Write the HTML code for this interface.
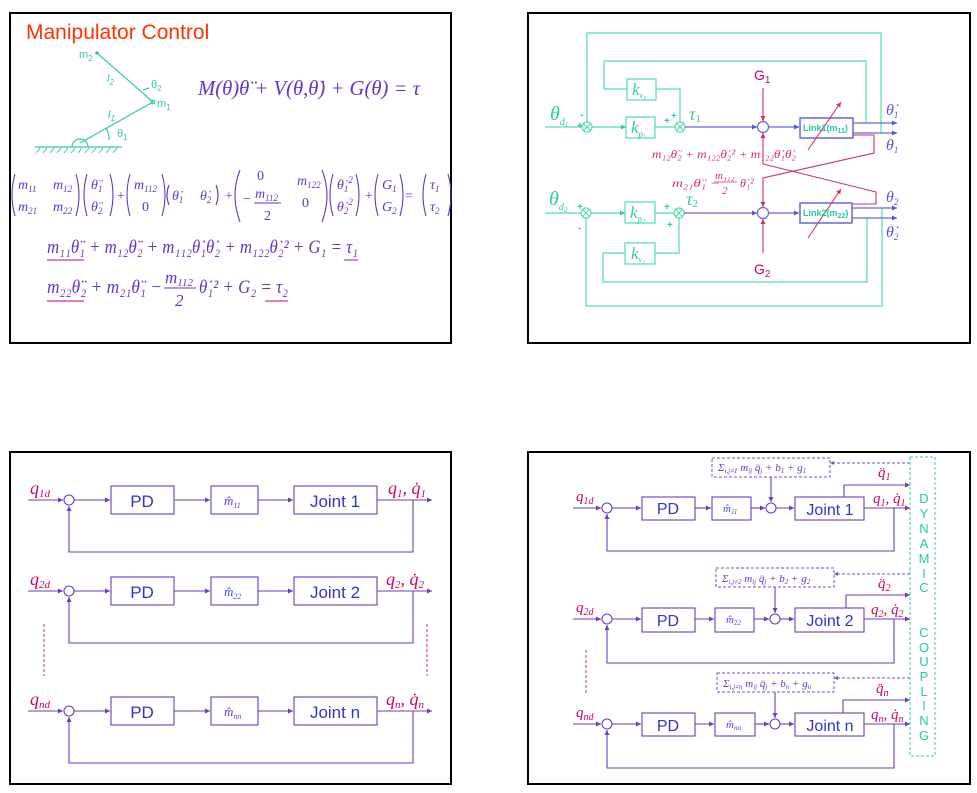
<!DOCTYPE html>
<html><head><meta charset="utf-8"><style>
html,body{margin:0;padding:0;background:#fff;}
svg{display:block}
.s{font-family:"Liberation Serif","DejaVu Serif",serif;font-style:italic}
.a{font-family:"Liberation Sans","DejaVu Sans",sans-serif}
</style></head><body>
<svg width="977" height="793" viewBox="0 0 977 793" xmlns="http://www.w3.org/2000/svg">
<defs>
<marker id="ap" markerWidth="6" markerHeight="6" refX="5" refY="3" orient="auto" markerUnits="userSpaceOnUse"><path d="M0,0.5 L5,3 L0,5.5z" fill="#6a3cc0"/></marker>
<marker id="ab" markerWidth="6" markerHeight="6" refX="5" refY="3" orient="auto" markerUnits="userSpaceOnUse"><path d="M0,0.5 L5,3 L0,5.5z" fill="#5555dd"/></marker>
<marker id="ag" markerWidth="6" markerHeight="6" refX="5" refY="3" orient="auto" markerUnits="userSpaceOnUse"><path d="M0,0.5 L5,3 L0,5.5z" fill="#33cc99"/></marker>
<marker id="ak" markerWidth="6" markerHeight="6" refX="5" refY="3" orient="auto" markerUnits="userSpaceOnUse"><path d="M0,0.5 L5,3 L0,5.5z" fill="#cc3366"/></marker>
</defs>
<!-- panel borders -->
<g fill="none" stroke="#000" stroke-width="2">
<rect x="10" y="13" width="441" height="330"/>
<rect x="528" y="13" width="442" height="330"/>
<rect x="10" y="452" width="441" height="332"/>
<rect x="528" y="452" width="442" height="332"/>
</g>

<!-- ===== Panel 1 ===== -->
<text x="26" y="39" class="a" font-size="21" fill="#ff3300">Manipulator Control</text>
<g stroke="#33cc99" stroke-width="1.2" fill="none">
<line x1="80" y1="143" x2="153" y2="102"/>
<line x1="153" y1="102" x2="97" y2="53"/>
<line x1="35" y1="147" x2="122" y2="147"/>
<path d="M72,147 A8,8 0 0 1 88,147"/>
<path d="M106,128 A20,20 0 0 1 109,140"/>
<path d="M149,88 L143,90"/>
<circle cx="153" cy="102" r="1.8"/>
</g>
<g stroke="#33cc99" stroke-width="1">
<line x1="36" y1="153" x2="40" y2="148"/><line x1="43" y1="153" x2="47" y2="148"/><line x1="50" y1="153" x2="54" y2="148"/><line x1="57" y1="153" x2="61" y2="148"/><line x1="64" y1="153" x2="68" y2="148"/><line x1="71" y1="153" x2="75" y2="148"/><line x1="78" y1="153" x2="82" y2="148"/><line x1="85" y1="153" x2="89" y2="148"/><line x1="92" y1="153" x2="96" y2="148"/><line x1="99" y1="153" x2="103" y2="148"/><line x1="106" y1="153" x2="110" y2="148"/><line x1="113" y1="153" x2="117" y2="148"/>
</g>
<circle cx="97" cy="53" r="1.8" fill="#33cc99"/>
<g class="a" font-size="11" fill="#33cc99">
<text x="79" y="58">m<tspan font-size="8" dy="3">2</tspan></text>
<text x="107" y="82" font-style="italic">l<tspan font-size="8" dy="3">2</tspan></text>
<text x="151" y="88">θ<tspan font-size="8" dy="3">2</tspan></text>
<text x="157" y="107">m<tspan font-size="8" dy="3">1</tspan></text>
<text x="108" y="118" font-style="italic">l<tspan font-size="8" dy="3">1</tspan></text>
<text x="117" y="137">θ<tspan font-size="8" dy="3">1</tspan></text>
</g>
<text x="198" y="95" class="s" font-size="21" fill="#6633cc" textLength="222" lengthAdjust="spacingAndGlyphs">M(θ)θ̈ + V(θ,θ̇) + G(θ) = τ</text>

<!-- matrix equation -->
<g class="s" font-size="14" fill="#6633cc">
<text x="18" y="189">m<tspan font-size="9" dy="3">11</tspan></text>
<text x="53" y="189">m<tspan font-size="9" dy="3">12</tspan></text>
<text x="18" y="211">m<tspan font-size="9" dy="3">21</tspan></text>
<text x="53" y="211">m<tspan font-size="9" dy="3">22</tspan></text>
<text x="91" y="189">θ̈<tspan font-size="9" dy="3">1</tspan></text>
<text x="91" y="211">θ̈<tspan font-size="9" dy="3">2</tspan></text>
<text x="117" y="200" font-style="normal">+</text>
<text x="134" y="189">m<tspan font-size="9" dy="3">112</tspan></text>
<text x="142" y="211" font-style="normal">0</text>
<text x="172" y="200">θ̇<tspan font-size="9" dy="3">1</tspan></text>
<text x="200" y="200">θ̇<tspan font-size="9" dy="3">2</tspan></text>
<text x="225" y="200" font-style="normal">+</text>
<text x="257" y="180" font-style="normal">0</text>
<text x="297" y="185">m<tspan font-size="9" dy="3">122</tspan></text>
<text x="243" y="203" font-style="normal">−</text>
<text x="255" y="198">m<tspan font-size="9" dy="3">112</tspan></text>
<line x1="254" y1="203" x2="281" y2="203" stroke="#6633cc" stroke-width="1"/>
<text x="264" y="220" font-style="normal">2</text>
<text x="302" y="207" font-style="normal">0</text>
<text x="337" y="189">θ̇<tspan font-size="9" dy="3">1</tspan><tspan font-size="9" dy="-9">2</tspan></text>
<text x="337" y="211">θ̇<tspan font-size="9" dy="3">2</tspan><tspan font-size="9" dy="-9">2</tspan></text>
<text x="365" y="200" font-style="normal">+</text>
<text x="382" y="189">G<tspan font-size="9" dy="3">1</tspan></text>
<text x="382" y="211">G<tspan font-size="9" dy="3">2</tspan></text>
<text x="405" y="200" font-style="normal">=</text>
<text x="430" y="189">τ<tspan font-size="9" dy="3">1</tspan></text>
<text x="430" y="211">τ<tspan font-size="9" dy="3">2</tspan></text>
</g>
<g fill="none" stroke="#6633cc" stroke-width="1.1">
<path d="M15,174 Q9,195 15,216"/><path d="M76,174 Q82,195 76,216"/>
<path d="M87,174 Q81,195 87,216"/><path d="M110,174 Q116,195 110,216"/>
<path d="M130,174 Q124,195 130,216"/><path d="M162,174 Q168,195 162,216"/>
<path d="M169,185 Q165,195 169,205"/><path d="M216,185 Q220,195 216,205"/>
<path d="M240,170 Q230,195 240,222"/><path d="M322,170 Q332,195 322,222"/>
<path d="M333,174 Q327,195 333,216"/><path d="M356,174 Q362,195 356,216"/>
<path d="M378,174 Q372,195 378,216"/><path d="M400,174 Q406,195 400,216"/>
<path d="M426,174 Q420,195 426,216"/><path d="M448,174 Q454,195 448,216"/>
</g>
<!-- line 1 -->
<text x="47" y="253" class="s" font-size="19" fill="#6633cc" textLength="311" lengthAdjust="spacingAndGlyphs">m₁₁θ̈₁ + m₁₂θ̈₂ + m₁₁₂θ̇₁θ̇₂ + m₁₂₂θ̇₂² + G₁ = τ₁</text>
<line x1="47" y1="260" x2="84" y2="260" stroke="#cc3399" stroke-width="1.2"/>
<line x1="344" y1="260" x2="358" y2="260" stroke="#cc3399" stroke-width="1.2"/>
<!-- line 2 -->
<text x="47" y="293" class="s" font-size="19" fill="#6633cc" textLength="115" lengthAdjust="spacingAndGlyphs">m₂₂θ̈₂ + m₂₁θ̈₁ −</text>
<text x="165" y="283" class="s" font-size="17" fill="#6633cc">m<tspan font-size="11" dy="3">112</tspan></text>
<line x1="164" y1="288" x2="196" y2="288" stroke="#6633cc" stroke-width="1"/>
<text x="175" y="306" class="s" font-size="17" fill="#6633cc" font-style="normal">2</text>
<text x="199" y="293" class="s" font-size="19" fill="#6633cc" textLength="89" lengthAdjust="spacingAndGlyphs">θ̇₁² + G₂ = τ₂</text>
<line x1="47" y1="301" x2="84" y2="301" stroke="#cc3399" stroke-width="1.2"/>
<line x1="265" y1="301" x2="288" y2="301" stroke="#cc3399" stroke-width="1.2"/>

<!-- ===== Panel 2 ===== -->
<g fill="none" stroke="#55ddaa" stroke-width="1.2">
<polyline points="881,133 881,33 587,33 587,122"/>
<polyline points="866,123 866,61 604,61 604,89 627,89"/>
<polyline points="656,89 680,89 680,122"/>
<line x1="545" y1="127" x2="582" y2="127"/>
<line x1="592" y1="127" x2="626" y2="127" marker-end="url(#ag)"/>
<line x1="655" y1="127" x2="675" y2="127"/>
<rect x="627" y="79" width="29" height="21"/>
<rect x="626" y="117" width="29" height="21"/>
<circle cx="587" cy="127" r="5"/><circle cx="680" cy="127" r="5"/>
<path d="M583.5,123.5 l7,7 M590.5,123.5 l-7,7 M676.5,123.5 l7,7 M683.5,123.5 l-7,7"/>
<polyline points="882,208 882,306 586,306 586,218"/>
<polyline points="867,218 867,282 603,282 603,253 625,253"/>
<polyline points="655,253 679,253 679,218"/>
<line x1="545" y1="213" x2="581" y2="213"/>
<line x1="591" y1="213" x2="625" y2="213" marker-end="url(#ag)"/>
<line x1="655" y1="213" x2="674" y2="213"/>
<rect x="625" y="202" width="30" height="21"/>
<rect x="625" y="243" width="30" height="21"/>
<circle cx="586" cy="213" r="5"/><circle cx="679" cy="213" r="5"/>
<path d="M582.5,209.5 l7,7 M589.5,209.5 l-7,7 M675.5,209.5 l7,7 M682.5,209.5 l-7,7"/>
</g>
<g fill="none" stroke="#6666dd" stroke-width="1.2">
<line x1="685" y1="127" x2="757" y2="127" marker-end="url(#ab)"/>
<circle cx="763" cy="127" r="5.5"/>
<line x1="769" y1="127" x2="799" y2="127" marker-end="url(#ab)"/>
<rect x="800" y="118" width="53" height="20" stroke-width="1.5"/>
<line x1="853" y1="123" x2="897" y2="123" marker-end="url(#ab)"/>
<line x1="853" y1="133" x2="897" y2="133" marker-end="url(#ab)"/>
<line x1="684" y1="213" x2="757" y2="213" marker-end="url(#ab)"/>
<circle cx="763" cy="213" r="5.5"/>
<line x1="769" y1="213" x2="799" y2="213" marker-end="url(#ab)"/>
<rect x="800" y="203" width="52" height="20" stroke-width="1.5"/>
<line x1="852" y1="208" x2="897" y2="208" marker-end="url(#ab)"/>
<line x1="852" y1="218" x2="897" y2="218" marker-end="url(#ab)"/>
</g>
<g fill="none" stroke="#cc3366" stroke-width="1.1">
<line x1="763" y1="88" x2="763" y2="121" marker-end="url(#ak)"/>
<line x1="763" y1="253" x2="763" y2="219" marker-end="url(#ak)"/>
<polyline points="853,135 874,135 874,153 763,178 763,207" marker-end="url(#ak)"/>
<polyline points="852,204 876,204 876,192 763,164 763,133" marker-end="url(#ak)"/>
<line x1="808" y1="150" x2="841" y2="102" marker-end="url(#ak)"/>
<line x1="808" y1="238" x2="841" y2="189" marker-end="url(#ak)"/>
</g>
<g class="a" font-size="14" fill="#cc0066">
<text x="754" y="80">G<tspan font-size="10" dy="3">1</tspan></text>
<text x="754" y="274">G<tspan font-size="10" dy="3">2</tspan></text>
</g>
<g class="a" font-size="9" fill="#22cc99" font-weight="bold">
<text x="803" y="131">Link1(m<tspan font-size="7" dy="2">11</tspan><tspan dy="-2">)</tspan></text>
<text x="803" y="216">Link2(m<tspan font-size="7" dy="2">22</tspan><tspan dy="-2">)</tspan></text>
</g>
<g class="s" fill="#33cc99">
<text x="632" y="95" font-size="17">k<tspan font-size="8" dy="3">v</tspan><tspan font-size="6" dy="2">1</tspan></text>
<text x="631" y="133" font-size="17">k<tspan font-size="9" dy="4">p</tspan><tspan font-size="6" dy="1">1</tspan></text>
<text x="630" y="218" font-size="17">k<tspan font-size="9" dy="4">p</tspan><tspan font-size="6" dy="1">2</tspan></text>
<text x="631" y="259" font-size="17">k<tspan font-size="8" dy="3">v</tspan><tspan font-size="6" dy="2">2</tspan></text>
<text x="550" y="120" font-size="20">θ<tspan font-size="10" dy="5">d</tspan><tspan font-size="7" dy="2">1</tspan></text>
<text x="549" y="205" font-size="20">θ<tspan font-size="10" dy="5">d</tspan><tspan font-size="7" dy="2">2</tspan></text>
<text x="689" y="120" font-size="18">τ<tspan font-size="11" dy="2" font-style="normal">1</tspan></text>
<text x="686" y="205" font-size="18">τ<tspan font-size="11" dy="2" font-style="normal">2</tspan></text>
</g>
<g class="a" font-size="10" fill="#33cc99" font-weight="bold">
<text x="577" y="129">+</text><text x="580" y="118">-</text>
<text x="664" y="124">+</text><text x="671" y="119">+</text>
<text x="577" y="210">+</text><text x="578" y="231">-</text>
<text x="664" y="210">+</text><text x="667" y="228">+</text>
</g>
<g class="s" fill="#5555dd" font-size="16">
<text x="886" y="115">θ̇<tspan font-size="9" dy="3">1</tspan></text>
<text x="886" y="150">θ<tspan font-size="9" dy="3">1</tspan></text>
<text x="886" y="202">θ<tspan font-size="9" dy="3">2</tspan></text>
<text x="886" y="237">θ̇<tspan font-size="9" dy="3">2</tspan></text>
</g>
<text x="652" y="158" class="s" font-size="12" fill="#cc3366" textLength="144" lengthAdjust="spacingAndGlyphs">m₁₂θ̈₂ + m₁₂₂θ̇₂² + m₁₂₂θ̇₁θ̇₂</text>
<text x="672" y="187" class="s" font-size="12" fill="#cc3366" textLength="48" lengthAdjust="spacingAndGlyphs">m₂₁θ̈₁ −</text>
<text x="715" y="179" class="s" font-size="11" fill="#cc3366">m₁₁₂</text>
<line x1="714" y1="182" x2="737" y2="182" stroke="#cc3366" stroke-width="0.8"/>
<text x="722" y="194" font-size="11" class="s" font-style="normal" fill="#cc3366">2</text>
<text x="740" y="187" class="s" font-size="12" fill="#cc3366">θ̇₁²</text>

<!-- ===== Panel 3 ===== -->
<g id="rowL">
</g>
<g fill="none" stroke="#6a3cc0" stroke-width="1.1">
<!-- row1 -->
<line x1="28" y1="500" x2="63" y2="500" marker-end="url(#ap)"/>
<circle cx="69" cy="500" r="5"/>
<line x1="74" y1="500" x2="110" y2="500" marker-end="url(#ap)"/>
<rect x="111" y="486" width="63" height="28"/>
<line x1="174" y1="500" x2="210" y2="500" marker-end="url(#ap)"/>
<rect x="211" y="486" width="47" height="28"/>
<line x1="258" y1="500" x2="293" y2="500" marker-end="url(#ap)"/>
<rect x="294" y="486" width="83" height="28"/>
<line x1="377" y1="500" x2="432" y2="500" marker-end="url(#ap)"/>
<polyline points="413,500 413,552 69,552 69,506" marker-end="url(#ap)"/>
<!-- row2 -->
<line x1="28" y1="591" x2="63" y2="591" marker-end="url(#ap)"/>
<circle cx="69" cy="591" r="5"/>
<line x1="74" y1="591" x2="110" y2="591" marker-end="url(#ap)"/>
<rect x="111" y="577" width="63" height="28"/>
<line x1="174" y1="591" x2="210" y2="591" marker-end="url(#ap)"/>
<rect x="211" y="577" width="47" height="28"/>
<line x1="258" y1="591" x2="293" y2="591" marker-end="url(#ap)"/>
<rect x="294" y="577" width="83" height="28"/>
<line x1="377" y1="591" x2="432" y2="591" marker-end="url(#ap)"/>
<polyline points="413,591 413,643 69,643 69,597" marker-end="url(#ap)"/>
<!-- row3 -->
<line x1="28" y1="711" x2="63" y2="711" marker-end="url(#ap)"/>
<circle cx="69" cy="711" r="5"/>
<line x1="74" y1="711" x2="110" y2="711" marker-end="url(#ap)"/>
<rect x="111" y="697" width="63" height="28"/>
<line x1="174" y1="711" x2="210" y2="711" marker-end="url(#ap)"/>
<rect x="211" y="697" width="47" height="28"/>
<line x1="258" y1="711" x2="293" y2="711" marker-end="url(#ap)"/>
<rect x="294" y="697" width="83" height="28"/>
<line x1="377" y1="711" x2="432" y2="711" marker-end="url(#ap)"/>
<polyline points="413,711 413,763 69,763 69,717" marker-end="url(#ap)"/>
</g>
<g stroke="#cc3366" stroke-width="1" stroke-dasharray="3,2">
<line x1="44" y1="624" x2="44" y2="676"/><line x1="427" y1="624" x2="427" y2="676"/>
</g>
<g class="a" font-size="17" fill="#3333cc" text-anchor="middle">
<text x="142" y="507">PD</text><text x="335" y="507">Joint 1</text>
<text x="142" y="598">PD</text><text x="335" y="598">Joint 2</text>
<text x="142" y="718">PD</text><text x="335" y="718">Joint n</text>
</g>
<g class="s" font-size="13" fill="#5544dd">
<text x="224" y="505">m̂<tspan font-size="8" dy="3">11</tspan></text>
<text x="224" y="596">m̂<tspan font-size="8" dy="3">22</tspan></text>
<text x="224" y="716">m̂<tspan font-size="8" dy="3">nn</tspan></text>
</g>
<g class="s" font-size="18" fill="#cc0066">
<text x="30" y="494">q<tspan font-size="11" dy="3">1d</tspan></text>
<text x="30" y="585">q<tspan font-size="11" dy="3">2d</tspan></text>
<text x="30" y="705">q<tspan font-size="11" dy="3">nd</tspan></text>
<text x="388" y="494">q<tspan font-size="11" dy="3">1</tspan><tspan dy="-3">, q̇</tspan><tspan font-size="11" dy="3">1</tspan></text>
<text x="386" y="585">q<tspan font-size="11" dy="3">2</tspan><tspan dy="-3">, q̇</tspan><tspan font-size="11" dy="3">2</tspan></text>
<text x="386" y="705">q<tspan font-size="11" dy="3">n</tspan><tspan dy="-3">, q̇</tspan><tspan font-size="11" dy="3">n</tspan></text>
</g>

<!-- ===== Panel 4 ===== -->
<g fill="none" stroke="#6a3cc0" stroke-width="1.1">
<!-- row1 y508 -->
<line x1="573" y1="508" x2="601" y2="508" marker-end="url(#ap)"/>
<circle cx="607" cy="508" r="5"/>
<line x1="612" y1="508" x2="641" y2="508" marker-end="url(#ap)"/>
<rect x="642" y="497" width="53" height="23"/>
<line x1="695" y1="508" x2="711" y2="508" marker-end="url(#ap)"/>
<rect x="712" y="497" width="39" height="23"/>
<line x1="751" y1="508" x2="765" y2="508" marker-end="url(#ap)"/>
<circle cx="771" cy="508" r="5"/>
<line x1="776" y1="508" x2="794" y2="508" marker-end="url(#ap)"/>
<rect x="795" y="497" width="69" height="23"/>
<line x1="864" y1="508" x2="910" y2="508" marker-end="url(#ap)"/>
<polyline points="844,497 844,485 910,485" marker-end="url(#ap)"/>
<polyline points="894,508 894,551 607,551 607,514" marker-end="url(#ap)"/>
<line x1="771" y1="477" x2="771" y2="502" marker-end="url(#ap)"/>
<!-- row2 y619 -->
<line x1="573" y1="619" x2="601" y2="619" marker-end="url(#ap)"/>
<circle cx="607" cy="619" r="5"/>
<line x1="612" y1="619" x2="641" y2="619" marker-end="url(#ap)"/>
<rect x="642" y="608" width="53" height="24"/>
<line x1="695" y1="619" x2="714" y2="619" marker-end="url(#ap)"/>
<rect x="715" y="608" width="39" height="24"/>
<line x1="754" y1="619" x2="769" y2="619" marker-end="url(#ap)"/>
<circle cx="775" cy="619" r="5"/>
<line x1="780" y1="619" x2="794" y2="619" marker-end="url(#ap)"/>
<rect x="795" y="608" width="69" height="24"/>
<line x1="864" y1="619" x2="910" y2="619" marker-end="url(#ap)"/>
<polyline points="846,608 846,595 910,595" marker-end="url(#ap)"/>
<polyline points="894,619 894,663 607,663 607,625" marker-end="url(#ap)"/>
<line x1="775" y1="587" x2="775" y2="613" marker-end="url(#ap)"/>
<!-- row3 y724 -->
<line x1="573" y1="724" x2="601" y2="724" marker-end="url(#ap)"/>
<circle cx="607" cy="724" r="5"/>
<line x1="612" y1="724" x2="641" y2="724" marker-end="url(#ap)"/>
<rect x="642" y="713" width="53" height="23"/>
<line x1="695" y1="724" x2="714" y2="724" marker-end="url(#ap)"/>
<rect x="715" y="713" width="40" height="23"/>
<line x1="755" y1="724" x2="769" y2="724" marker-end="url(#ap)"/>
<circle cx="775" cy="724" r="5"/>
<line x1="780" y1="724" x2="794" y2="724" marker-end="url(#ap)"/>
<rect x="795" y="713" width="69" height="23"/>
<line x1="864" y1="724" x2="910" y2="724" marker-end="url(#ap)"/>
<polyline points="843,713 843,700 910,700" marker-end="url(#ap)"/>
<polyline points="894,724 894,768 607,768 607,730" marker-end="url(#ap)"/>
<line x1="775" y1="692" x2="775" y2="718" marker-end="url(#ap)"/>
</g>
<g fill="none" stroke="#7a4cc8" stroke-width="1" stroke-dasharray="3,2">
<rect x="712" y="458" width="118" height="19"/>
<rect x="716" y="568" width="118" height="19"/>
<rect x="717" y="673" width="117" height="19"/>
<line x1="910" y1="463" x2="833" y2="463"/>
<line x1="910" y1="574" x2="837" y2="574"/>
<line x1="910" y1="678" x2="837" y2="678"/>
</g>
<g fill="#7a4cc8"><path d="M830,463 l4,-2 v4z"/><path d="M834,574 l4,-2 v4z"/><path d="M834,678 l4,-2 v4z"/></g>
<rect x="910" y="457" width="25" height="299" fill="none" stroke="#33cc99" stroke-width="1" stroke-dasharray="3,2"/>
<g stroke="#cc3366" stroke-width="1" stroke-dasharray="3,2"><line x1="586" y1="650" x2="586" y2="695"/></g>
<g class="a" font-size="13" fill="#22cc99" text-anchor="middle">
<text x="924" y="503">D</text><text x="924" y="518">Y</text><text x="924" y="533">N</text><text x="924" y="548">A</text><text x="924" y="563">M</text><text x="924" y="578">I</text><text x="924" y="592">C</text>
<text x="924" y="637">C</text><text x="924" y="652">O</text><text x="924" y="666">U</text><text x="924" y="681">P</text><text x="924" y="696">L</text><text x="924" y="710">I</text><text x="924" y="725">N</text><text x="924" y="740">G</text>
</g>
<g class="a" font-size="16" fill="#3333cc" text-anchor="middle">
<text x="668" y="514">PD</text><text x="830" y="515">Joint 1</text>
<text x="668" y="626">PD</text><text x="830" y="626">Joint 2</text>
<text x="668" y="731">PD</text><text x="830" y="731">Joint n</text>
</g>
<g class="s" font-size="11" fill="#5544dd">
<text x="723" y="512">m̂<tspan font-size="7" dy="2">11</tspan></text>
<text x="726" y="623">m̂<tspan font-size="7" dy="2">22</tspan></text>
<text x="726" y="728">m̂<tspan font-size="7" dy="2">nn</tspan></text>
</g>
<g class="s" font-size="11" fill="#6633cc">
<text x="718" y="471">Σ<tspan font-size="7" dy="2">i,j≠1</tspan><tspan dy="-2"> m</tspan><tspan font-size="7" dy="2">ij</tspan><tspan dy="-2"> q̈</tspan><tspan font-size="7" dy="2">j</tspan><tspan dy="-2"> + b</tspan><tspan font-size="7" dy="2">1</tspan><tspan dy="-2"> + g</tspan><tspan font-size="7" dy="2">1</tspan></text>
<text x="722" y="582">Σ<tspan font-size="7" dy="2">i,j≠2</tspan><tspan dy="-2"> m</tspan><tspan font-size="7" dy="2">ij</tspan><tspan dy="-2"> q̈</tspan><tspan font-size="7" dy="2">j</tspan><tspan dy="-2"> + b</tspan><tspan font-size="7" dy="2">2</tspan><tspan dy="-2"> + g</tspan><tspan font-size="7" dy="2">2</tspan></text>
<text x="723" y="687">Σ<tspan font-size="7" dy="2">i,j≠n</tspan><tspan dy="-2"> m</tspan><tspan font-size="7" dy="2">ij</tspan><tspan dy="-2"> q̈</tspan><tspan font-size="7" dy="2">j</tspan><tspan dy="-2"> + b</tspan><tspan font-size="7" dy="2">n</tspan><tspan dy="-2"> + g</tspan><tspan font-size="7" dy="2">n</tspan></text>
</g>
<g class="s" font-size="15" fill="#cc0066">
<text x="576" y="501">q<tspan font-size="10" dy="3">1d</tspan></text>
<text x="576" y="612">q<tspan font-size="10" dy="3">2d</tspan></text>
<text x="576" y="717">q<tspan font-size="10" dy="3">nd</tspan></text>
<text x="878" y="477">q̈<tspan font-size="10" dy="3">1</tspan></text>
<text x="878" y="588">q̈<tspan font-size="10" dy="3">2</tspan></text>
<text x="876" y="693">q̈<tspan font-size="10" dy="3">n</tspan></text>
<text x="873" y="503">q<tspan font-size="10" dy="3">1</tspan><tspan dy="-3">, q̇</tspan><tspan font-size="10" dy="3">1</tspan></text>
<text x="871" y="614">q<tspan font-size="10" dy="3">2</tspan><tspan dy="-3">, q̇</tspan><tspan font-size="10" dy="3">2</tspan></text>
<text x="871" y="719">q<tspan font-size="10" dy="3">n</tspan><tspan dy="-3">, q̇</tspan><tspan font-size="10" dy="3">n</tspan></text>
</g>
</svg>
</body></html>
